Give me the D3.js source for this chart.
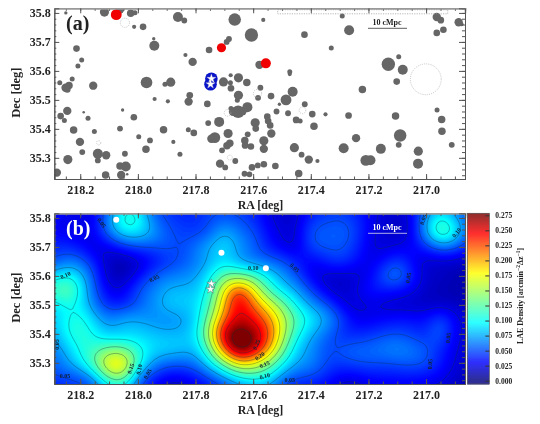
<!DOCTYPE html>
<html><head><meta charset="utf-8">
<script src="https://cdn.jsdelivr.net/npm/d3@7"></script>
<style>
html,body{margin:0;padding:0;background:#fff}
svg{display:block;filter:blur(0.3px)}
text{font-family:"Liberation Serif",serif;font-weight:bold;fill:#222}
</style></head><body><svg id="c" width="540" height="424"></svg>
<script>
// [RA, Dec, size]
const lae=[[218.250,35.800,4],[218.116,35.803,11],[218.062,35.812,10],[218.025,35.799,9],[218.010,35.801,6],[217.861,35.786,12],[217.839,35.774,7],[217.664,35.777,15],[217.565,35.776,5],[218.013,35.752,5],[217.982,35.752,8],[217.945,35.711,4],[217.943,35.687,12],[218.213,35.677,8],[217.684,35.710,7],[217.692,35.700,7],[217.753,35.672,8],[217.835,35.655,5],[217.606,35.724,16],[218.195,35.638,6],[218.208,35.617,6],[218.228,35.572,6],[218.271,35.559,6],[218.239,35.550,9],[218.251,35.542,10],[218.245,35.536,8],[218.155,35.549,10],[217.970,35.560,14],[217.906,35.554,6],[217.886,35.561,11],[217.820,35.516,8],[217.824,35.494,10],[217.942,35.503,5],[217.896,35.495,5],[218.245,35.462,10],[218.268,35.444,8],[218.255,35.429,6],[218.188,35.457,3],[218.173,35.437,6],[218.053,35.465,4],[218.014,35.440,8],[218.062,35.401,7],[218.223,35.396,9],[218.151,35.391,6],[217.911,35.397,9],[217.997,35.373,6],[217.958,35.360,7],[218.201,35.355,10],[218.193,35.320,7],[217.877,35.355,5],[217.972,35.330,9],[218.139,35.314,12],[218.110,35.309,10],[218.045,35.314,7],[218.139,35.291,7],[218.243,35.294,11],[217.854,35.312,6],[217.825,35.397,6],[218.062,35.272,9],[218.042,35.270,12],[218.037,35.243,3],[218.058,35.241,10],[218.112,35.241,9],[218.281,35.249,10],
[217.810,35.631,10],[217.759,35.486,8],[217.806,35.386,8],[217.756,35.420,7],[217.718,35.424,12],[217.703,35.562,11],[217.678,35.585,5],[217.679,35.559,6],[217.677,35.540,8],[217.651,35.576,11],[217.622,35.560,9],[217.651,35.516,11],[217.655,35.499,6],[217.677,35.470,6],[217.670,35.459,10],[217.652,35.459,15],[217.637,35.461,10],[217.620,35.475,12],[217.593,35.421,11],[217.591,35.401,8],[217.575,35.542,7],[217.583,35.507,7],[217.538,35.513,8],[217.578,35.621,10],[217.473,35.597,6],[217.473,35.589,5],[217.463,35.528,12],[217.486,35.500,13],[217.509,35.485,4],[217.421,35.485,7],[217.479,35.454,7],[217.519,35.460,7],[217.451,35.431,8],[217.437,35.427,6],[217.395,35.451,8],[217.389,35.409,9],[217.551,35.442,8],[217.548,35.427,8],[217.541,35.412,8],[217.537,35.384,10],[217.563,35.359,11],[217.563,35.331,10],[217.629,35.360,9],[217.628,35.343,8],[217.608,35.339,8],[217.619,35.381,7],[217.687,35.384,11],[217.681,35.350,9],[217.691,35.342,9],[217.708,35.326,7],[217.733,35.370,13],[217.745,35.366,10],[217.715,35.280,10],[217.697,35.267,7],[217.662,35.289,7],[217.604,35.267,8],[217.584,35.274,7],[217.563,35.278,8],[217.523,35.272,8],[217.630,35.245,7],[217.613,35.243,7],[217.457,35.335,11],[217.432,35.311,7],[217.407,35.294,10],[217.377,35.289,5],[217.442,35.246,9],
[217.291,35.789,6],[217.267,35.740,12],[217.422,35.725,8],[217.329,35.679,6],[216.963,35.786,10],[216.949,35.775,8],[216.963,35.731,8],[216.940,35.742,8],[216.887,35.768,10],[216.877,35.761,5],[217.131,35.623,16],[217.095,35.649,6],[217.081,35.604,12],[217.102,35.563,8],[217.221,35.536,9],[217.349,35.450,5],[217.269,35.446,8],[217.106,35.444,9],[216.962,35.465,6],[216.946,35.432,9],[216.945,35.392,9],[217.090,35.377,15],[217.095,35.345,7],[217.243,35.368,10],[217.286,35.333,12],[217.157,35.331,12],[217.209,35.291,13],[217.193,35.292,12],[217.027,35.323,11],[217.028,35.280,12],[216.911,35.345,7]];
const rings=[[218.045,35.766,11],[218.136,35.352,5],[217.689,35.455,8],[217.681,35.301,6],[217.585,35.522,10],[217.429,35.464,8],[217.001,35.571,37]];
const redPoints=[[218.075,35.794,13],[217.710,35.680,11],[217.556,35.626,12]];
const stars=[[217.745,35.573],[217.748,35.554]];
const footprint=[217.515,35.811,216.925,35.797];
const raTicks=[218.2,218.0,217.8,217.6,217.4,217.2,217.0];
const decTicks=[35.3,35.4,35.5,35.6,35.7,35.8];
const cbTicks=[0,0.025,0.05,0.075,0.1,0.125,0.15,0.175,0.2,0.225,0.25,0.275];
const contourLevels=[0.025,0.05,0.075,0.1,0.125,0.15,0.175,0.2,0.225,0.25,0.275];
// density ×1000, rows Dec 35.85 → 35.20, columns RA 218.30 → 216.85 (step 0.05)
const density=[
[32,30,26,30,55,85,85,50,42,36,38,44,46,44,38,28,20,20,30,38,42,36,28,24,22,30,55,70,55,40],
[32,28,24,28,68,112,108,60,48,42,42,50,52,50,42,26,20,20,42,47,50,44,30,22,18,26,70,105,78,50],
[30,27,25,30,62,92,92,76,52,48,44,52,80,60,52,33,24,22,52,54,56,50,28,22,18,25,75,130,100,50],
[42,42,34,22,25,38,48,50,55,48,62,80,90,73,58,38,27,21,50,52,53,44,26,22,25,30,40,58,54,35],
[46,62,58,36,18,12,20,30,42,50,62,75,90,72,62,58,52,38,27,38,46,36,26,32,48,30,20,20,18,15],
[85,100,86,46,17,14,30,52,62,66,72,95,130,130,122,95,72,52,28,20,18,20,26,52,66,40,20,18,15,12],
[112,138,98,52,28,27,52,62,78,80,82,108,178,245,182,122,90,75,48,26,18,25,35,36,33,27,18,15,12,10],
[84,100,92,62,38,38,52,68,82,85,88,118,200,258,220,178,138,95,72,54,30,18,25,20,18,18,17,18,18,16],
[80,98,110,82,66,78,75,68,66,70,85,138,222,258,248,215,165,122,95,77,53,30,28,32,35,35,33,52,28,20],
[72,98,112,98,80,84,85,82,78,80,90,160,270,292,275,235,165,105,78,60,42,38,42,47,50,45,40,58,28,20],
[62,78,106,112,128,126,106,90,88,85,82,128,232,300,272,215,140,85,70,50,52,58,58,64,68,62,52,40,25,20],
[55,70,92,132,190,192,112,72,58,56,62,92,135,190,180,146,102,75,68,50,46,50,52,50,52,55,52,37,24,18],
[46,50,52,72,130,140,62,42,28,28,35,50,70,92,104,98,65,50,48,40,28,26,32,33,34,34,32,28,20,15],
[35,38,42,50,75,80,50,25,18,18,22,30,40,55,65,60,40,30,30,26,18,18,22,24,24,24,22,20,15,12]];
// [RA, Dec, text, rotation]
const contourLabels=[[218.126,35.783,"0.05",55],[218.251,35.602,"0.10",-25],[217.943,35.591,"0.05",-25],[217.6,35.628,"0.10",0],[218.024,35.280,"0.15",-70],[217.995,35.277,"0.10",-75],[217.966,35.262,"0.05",-60],[218.253,35.253,"0.05",0],[218.282,35.363,"0.05",-90],[217.588,35.363,"0.25",-65],[217.577,35.323,"0.20",-35],[217.560,35.294,"0.15",-25],[217.560,35.254,"0.10",-15],[217.473,35.240,"0.05",0],[217.456,35.628,"0.05",45],[217.061,35.593,"0.05",-80],[216.923,35.386,"0.05",-85],[216.986,35.296,"0.05",-85],[216.894,35.749,"0.10",-50],[217.009,35.794,"0.05",-70]];

const W=54.3,E=465;
const panels=[{t:8.3,b:179,lab:"(a)",labCol:"#222"},{t:213.3,b:384,lab:"(b)",labCol:"#fff"}];
const raDom=[218.29,216.865],decDom=[35.227,35.816];
const x=d3.scaleLinear().domain(raDom).range([W,E]);
const svg=d3.select("#c");
const defs=svg.append("defs");
const jet=d3.scaleLinear().domain([0,.11,.35,.5,.65,.89,1].map(t=>t*0.275))
  .range(["#00007f","#0000ff","#00ffff","#80ff80","#ffff00","#ff0000","#7f0000"]).clamp(true);
const rad=d3.scaleLinear().domain([0,24]).range([0,10]);
function cr(a,b,c,d,t){return 0.5*(2*b+(c-a)*t+(2*a-5*b+4*c-d)*t*t+(3*b-a-3*c+d)*t*t*t);}
const ny=density.length,nx=density[0].length,f=6;
const g=(j,i)=>density[Math.max(0,Math.min(ny-1,j))][Math.max(0,Math.min(nx-1,i))]/1000;
const nu=(nx-1)*f+1,nv=(ny-1)*f+1,fine=new Float64Array(nu*nv);
for(let v=0;v<nv;v++)for(let u=0;u<nu;u++){
  const i=Math.floor(u/f),j=Math.floor(v/f),tx=u/f-i,ty=v/f-j,row=[];
  for(let k=-1;k<=2;k++)row.push(cr(g(j+k,i-1),g(j+k,i),g(j+k,i+1),g(j+k,i+2),tx));
  fine[v*nu+u]=cr(row[0],row[1],row[2],row[3],ty);
}
d3.blur2({data:fine,width:nu,height:nv},2.5);
function axes(G,y,t,b){
  const st="#555";
  const maj=(sel)=>sel.call(s=>s.selectAll("path").attr("stroke",st)).call(s=>s.selectAll("line").attr("stroke",st));
  const minorRA=d3.range(218.25,216.86,-0.05),minorDec=d3.range(35.24,35.815,0.02);
  const hid=()=>"";
  G.append("g").attr("transform",`translate(0,${b})`).call(d3.axisBottom(x).tickValues(minorRA).tickSize(-2.5).tickFormat(hid)).call(maj);
  G.append("g").attr("transform",`translate(0,${t})`).call(d3.axisTop(x).tickValues(minorRA).tickSize(-2.5).tickFormat(hid)).call(maj).call(s=>s.select("path").attr("stroke","#999").attr("stroke-width",1.6));
  G.append("g").attr("transform",`translate(${W},0)`).call(d3.axisLeft(y).tickValues(minorDec).tickSize(-2).tickFormat(hid)).call(maj);
  G.append("g").attr("transform",`translate(${E},0)`).call(d3.axisRight(y).tickValues(minorDec).tickSize(-3).tickFormat(hid)).call(maj);
  const bx=G.append("g").attr("transform",`translate(0,${b})`).call(d3.axisBottom(x).tickValues(raTicks).tickSize(-5).tickPadding(6).tickFormat(d3.format(".1f"))).call(maj);
  bx.selectAll("text").attr("font-size",12).attr("fill","#222").attr("font-family","Liberation Serif");
  G.append("g").attr("transform",`translate(0,${t})`).call(d3.axisTop(x).tickValues(raTicks).tickSize(-5).tickFormat(hid)).call(maj).call(s=>s.select("path").attr("stroke","#999").attr("stroke-width",1.6));
  const ly=G.append("g").attr("transform",`translate(${W},0)`).call(d3.axisLeft(y).tickValues(decTicks).tickSize(-5).tickPadding(3.5).tickFormat(d3.format(".1f"))).call(maj);
  ly.selectAll("text").attr("font-size",12).attr("fill","#222").attr("font-family","Liberation Serif");
  G.append("g").attr("transform",`translate(${E},0)`).call(d3.axisRight(y).tickValues(decTicks).tickSize(-6).tickFormat(hid)).call(maj);
  G.append("text").attr("x",260.5).attr("y",b+29.5).attr("text-anchor","middle").attr("font-size",12).text("RA [deg]");
  G.append("text").attr("transform",`translate(20,${(t+b)/2-1}) rotate(-90)`).attr("text-anchor","middle").attr("font-size",12.5).text("Dec [deg]");
}
panels.forEach((p,idx)=>{
  const y=d3.scaleLinear().domain(decDom).range([p.b,p.t]);
  const id="clip"+idx;
  defs.append("clipPath").attr("id",id).append("rect").attr("x",W).attr("y",p.t).attr("width",E-W).attr("height",p.b-p.t);
  const G=svg.append("g"),P=G.append("g").attr("clip-path",`url(#${id})`);
  const scalebarCol=idx?"#dde":"#333";
  if(idx===0){
    P.selectAll("circle.l").data(lae).join("circle").attr("cx",d=>x(d[0])).attr("cy",d=>y(d[1])).attr("r",d=>rad(d[2])).attr("fill","#666");
    P.selectAll("circle.r").data(rings).join("circle").attr("cx",d=>x(d[0])).attr("cy",d=>y(d[1])).attr("r",d=>rad(d[2])).attr("fill","none").attr("stroke","#aaa").attr("stroke-width",.7).attr("stroke-dasharray","1 1.2");
    P.append("rect").attr("x",x(footprint[0])).attr("y",y(footprint[1])).attr("width",x(footprint[2])-x(footprint[0])).attr("height",y(footprint[3])-y(footprint[1])).attr("fill","none").attr("stroke","#999").attr("stroke-width",.7).attr("stroke-dasharray","1.2 1.2");
    P.selectAll("circle.rp").data(redPoints).join("circle").attr("cx",d=>x(d[0])).attr("cy",d=>y(d[1])).attr("r",d=>rad(d[2])).attr("fill","#f00000");
    P.selectAll("circle.bl").data(stars).join("circle").attr("cx",d=>x(d[0])).attr("cy",d=>y(d[1])).attr("r",6.3).attr("fill","#0a14c8");
    P.selectAll("path.s").data(stars).join("path").attr("d",d3.symbol(d3.symbolStar,26)).attr("transform",d=>`translate(${x(d[0])},${y(d[1])})`).attr("fill","#fff").attr("stroke","#ccc").attr("stroke-width",.3);
  } else {
    const th=d3.range(0,0.29,0.0018);
    const path=d3.geoPath(d3.geoTransform({point(a,b){this.stream.point(x(218.30-(a-.5)/f*.05),y(35.85-(b-.5)/f*.05));}}));
    const cs=d3.contours().size([nu,nv]);
    P.append("rect").attr("x",W).attr("y",p.t).attr("width",E-W).attr("height",p.b-p.t).attr("fill",jet(0));
    P.selectAll("path.f").data(th.map(t=>cs.contour(fine,t))).join("path").attr("d",path).attr("fill",d=>jet(d.value)).attr("stroke","none");
    P.selectAll("path.c").data(contourLevels.map(t=>cs.contour(fine,t))).join("path").attr("d",path).attr("fill","none").attr("stroke","#134").attr("stroke-opacity",.65).attr("stroke-width",.55);
    P.selectAll("text.cl").data(contourLabels).join("text").attr("transform",d=>`translate(${x(d[0])},${y(d[1])}) rotate(${d[3]})`).attr("text-anchor","middle").attr("dy","0.33em").attr("font-size",6).style("fill","#123").text(d=>d[2]);
    P.selectAll("circle.rp").data(redPoints).join("circle").attr("cx",d=>x(d[0])).attr("cy",d=>y(d[1])).attr("r",3).attr("fill","#fff");
    P.selectAll("path.s").data(stars).join("path").attr("d",d3.symbol(d3.symbolStar,26)).attr("transform",d=>`translate(${x(d[0])},${y(d[1])})`).attr("fill","#fff").attr("stroke","#555").attr("stroke-width",.4);
  }
  axes(G,y,p.t,p.b);
  G.append("text").attr("x",66).attr("y",p.t+22).attr("font-size",20).style("fill",p.labCol).text(p.lab);
  G.append("line").attr("x1",368).attr("x2",407).attr("y1",p.t+20).attr("y2",p.t+20).attr("stroke",scalebarCol).attr("stroke-width",.8);
  G.append("text").attr("x",387).attr("y",p.t+17).attr("text-anchor","middle").attr("font-size",8).style("fill",idx?"#fff":"#222").text("10 cMpc");
});
// colour bar
const cb=d3.scaleLinear().domain([0,0.275]).range([380.7,215.3]);
const cbG=svg.append("g");
const rows=d3.range(213.3,384,1);
cbG.selectAll("rect").data(rows).join("rect").attr("x",467.3).attr("width",22).attr("y",d=>d).attr("height",1.1).attr("fill",d=>jet(cb.invert(d+.5)));
cbG.append("rect").attr("x",467.3).attr("y",213.3).attr("width",22).attr("height",170.7).attr("fill","none").attr("stroke","#555").attr("stroke-width",.7);
const cax=cbG.append("g").attr("transform","translate(489.3,0)").call(d3.axisRight(cb).tickValues(cbTicks).tickSize(-4).tickPadding(6).tickFormat(d3.format(".3f")));
cax.select("path").remove();cax.selectAll("line").attr("stroke","#333");
cax.selectAll("text").attr("font-size",7.5).attr("fill","#222").attr("font-family","Liberation Serif");
const lbl=svg.append("text").attr("transform","translate(523,296) rotate(-90)").attr("text-anchor","middle").attr("font-size",8);
lbl.append("tspan").text("LAE Density [arcmin");
lbl.append("tspan").attr("font-size",5.5).attr("dy",-3).text("−2");
lbl.append("tspan").attr("dy",3).text("Δz");
lbl.append("tspan").attr("font-size",5.5).attr("dy",-3).text("−1");
lbl.append("tspan").attr("dy",3).text("]");
</script></body></html>
